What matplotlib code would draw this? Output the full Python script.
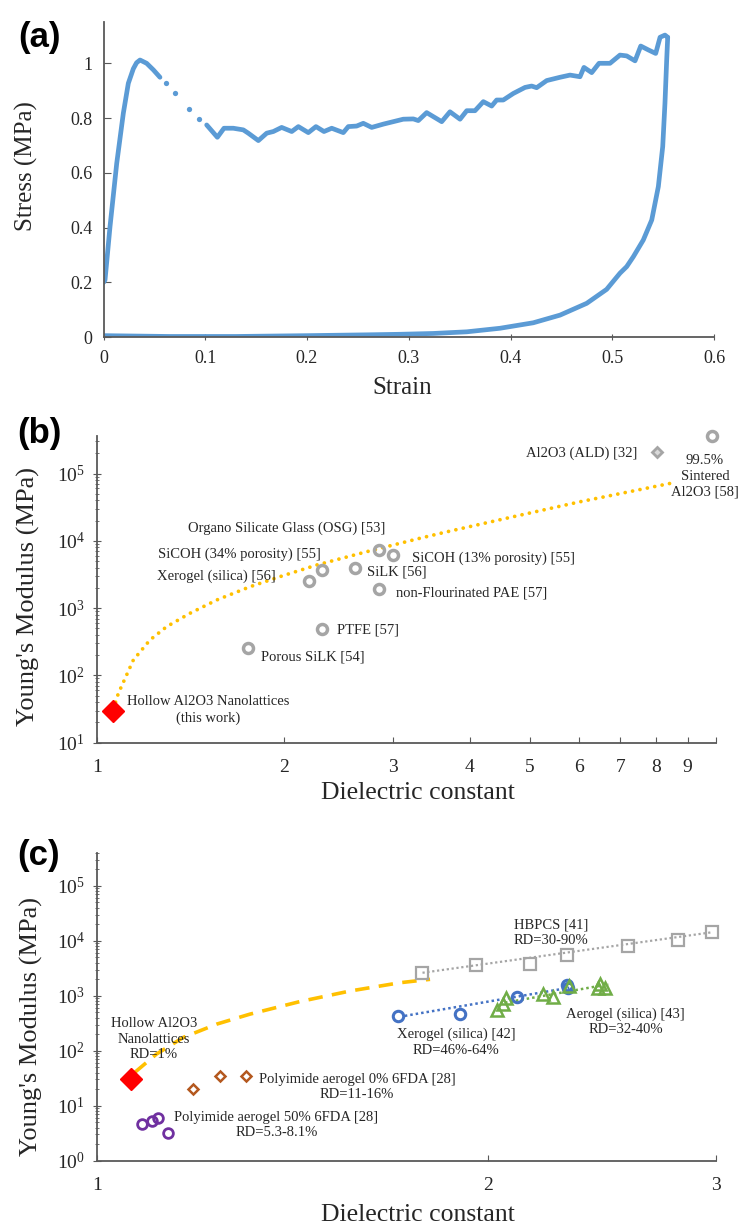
import matplotlib
matplotlib.use('Agg')
import numpy as np
import matplotlib.pyplot as plt
from matplotlib.ticker import LogLocator, NullLocator, NullFormatter, LogFormatterMathtext

# ---- panel (a): compression loading / unloading ----
strain_rise = [0.0, 0.0015, 0.0064, 0.013, 0.0195, 0.0244, 0.0293, 0.0325, 0.0359, 0.0424, 0.049, 0.0555]
stress_rise = [0.20, 0.209, 0.404, 0.635, 0.818, 0.927, 0.980, 1.002, 1.012, 1.0, 0.976, 0.949]
strain_gap = [0.0614, 0.0706, 0.0843, 0.0935]
stress_gap = [0.927, 0.890, 0.833, 0.798]
strain_plateau = [0.1014, 0.1119, 0.1184, 0.1276, 0.1374, 0.1423, 0.1522, 0.1604, 0.1669, 0.1751,
                  0.185, 0.1915, 0.2013, 0.2088, 0.2167, 0.2243, 0.2357, 0.2406, 0.2488, 0.2553,
                  0.2636, 0.275, 0.2848, 0.2946, 0.3045, 0.3094, 0.3176, 0.3324, 0.3405, 0.3504,
                  0.357, 0.3651, 0.3733, 0.3815, 0.3864, 0.3929, 0.4028, 0.4143, 0.4208, 0.4257,
                  0.4356, 0.4487, 0.4585, 0.4683, 0.4722, 0.4798, 0.487, 0.4978, 0.5076, 0.5142,
                  0.5224, 0.528, 0.5354, 0.5427, 0.547, 0.5518, 0.5545]
stress_plateau = [0.775, 0.730, 0.763, 0.763, 0.757, 0.745, 0.718, 0.745, 0.751, 0.766,
                  0.751, 0.769, 0.747, 0.769, 0.751, 0.763, 0.747, 0.769, 0.771, 0.781,
                  0.766, 0.778, 0.787, 0.796, 0.797, 0.791, 0.820, 0.787, 0.823, 0.796,
                  0.827, 0.827, 0.860, 0.844, 0.866, 0.866, 0.890, 0.912, 0.917, 0.911,
                  0.937, 0.949, 0.957, 0.951, 0.985, 0.966, 1.0, 1.0, 1.030, 1.027,
                  1.009, 1.063, 1.049, 1.036, 1.095, 1.103, 1.095]
strain_unload = [0.5545, 0.5535, 0.5518, 0.5496, 0.5453, 0.5388, 0.5305, 0.5207, 0.5142, 0.5076,
                 0.4945, 0.4749, 0.4487, 0.4224, 0.3897, 0.357, 0.3241, 0.2914, 0.2587, 0.2,
                 0.13, 0.065, 0.0]
stress_unload = [1.095, 1.012, 0.854, 0.696, 0.550, 0.428, 0.355, 0.294, 0.258, 0.234,
                 0.175, 0.124, 0.081, 0.053, 0.033, 0.020, 0.014, 0.011, 0.009, 0.006,
                 0.003, 0.003, 0.006]

# ---- panel (b): modulus vs dielectric constant ----
lowk_k = [1.754, 2.305, 2.20, 2.305, 2.61, 2.855, 3.01, 2.855, 9.84]
lowk_E = [253, 484, 2550, 3680, 3900, 7300, 6150, 1920, 3.6e5]
ald_k = [8.02]
ald_E = [2.1e5]
this_k = [1.061]
this_E = [30]
fit_b_k = [1.07, 1.081, 1.143, 1.216, 1.294, 1.411, 1.559, 1.765, 1.972, 2.262, 2.724, 3.32,
           3.67, 4.70, 6.03, 8.53]
fit_b_E = [40, 54, 169, 336, 530, 837, 1320, 2080, 2930, 4370, 6890, 10900,
           13600, 22800, 38100, 72900]

# ---- panel (c): porous materials ----
hbpcs_k = [1.781, 1.958, 2.156, 2.303, 2.564, 2.805, 2.976]
hbpcs_E = [2620, 3560, 3800, 5620, 8180, 10200, 14300]
hbpcs_trend_k = [1.781, 2.976]
hbpcs_trend_E = [2620, 14260]
xero_k = [1.704, 1.904, 2.106, 2.305, 2.30]
xero_E = [431, 475, 964, 1400, 1550]
xero_trend_k = [1.726, 2.311]
xero_trend_E = [431, 1400]
aero_k = [2.034, 2.056, 2.065, 2.204, 2.245, 2.311, 2.43, 2.441, 2.461]
aero_E = [547, 720, 925, 1092, 951, 1503, 1400, 1656, 1400]
aero_trend_k = [2.062, 2.477]
aero_trend_E = [750, 1614]
pi0_k = [1.184, 1.243, 1.302]
pi0_E = [20, 34.4, 35]
pi50_k = [1.082, 1.102, 1.113, 1.133]
pi50_E = [4.6, 5.3, 6.0, 3.2]
fit_c_k = [1.069, 1.111, 1.165, 1.236, 1.311, 1.432, 1.566, 1.711, 1.805]
fit_c_E = [40.7, 87.5, 175, 305, 463, 782, 1220, 1726, 1990]

W, H = 738, 1226
plt.rcParams['font.family'] = ['Liberation Serif', 'DejaVu Serif']
plt.rcParams['mathtext.fontset'] = 'custom'
plt.rcParams['mathtext.rm'] = 'Liberation Serif'
plt.rcParams['mathtext.default'] = 'regular'

SPINE = '#595959'
TXT = '#262626'
GRAY = '#A5A5A5'
ORANGE = '#FFC000'
ANN = 10.5
LS = 1.25

fig = plt.figure(figsize=(W / 100, H / 100), dpi=100)


def px_axes(left, top, right, bottom):
    return fig.add_axes([left / W, 1 - bottom / H, (right - left) / W, (bottom - top) / H])


def style(ax):
    for s in ['top', 'right']:
        ax.spines[s].set_visible(False)
    for s in ['left', 'bottom']:
        ax.spines[s].set_color(SPINE)
        ax.spines[s].set_linewidth(1.3)


def note(ax, x, y, s, ha='center', ma='center'):
    ax.text(x, y, s, fontsize=ANN, ha=ha, va='center', multialignment=ma, linespacing=LS, color=TXT)


# (a)
ax = px_axes(103.5, 22.2, 714, 337.3)
style(ax)
blue = '#5B9BD5'
line_kw = dict(color=blue, lw=3.4, solid_capstyle='round', solid_joinstyle='round')
ax.plot(strain_rise, stress_rise, **line_kw)
ax.plot(strain_gap, stress_gap, 'o', color=blue, ms=3.8, mew=0)
ax.plot(strain_plateau, stress_plateau, **line_kw)
ax.plot(strain_unload, stress_unload, **line_kw)
ax.set_xlim(0, 0.6)
ax.set_ylim(0, 1.15)
ax.set_xticks([0, 0.1, 0.2, 0.3, 0.4, 0.5, 0.6])
ax.set_xticklabels(['0', '0.1', '0.2', '0.3', '0.4', '0.5', '0.6'])
ax.set_yticks([0, 0.2, 0.4, 0.6, 0.8, 1.0])
ax.set_yticklabels(['0', '0.2', '0.4', '0.6', '0.8', '1'])
ax.tick_params(axis='x', direction='inout', length=5, color=SPINE, labelsize=13, pad=7, labelcolor=TXT)
ax.tick_params(axis='y', direction='in', length=5, color=SPINE, labelsize=13, pad=8, labelcolor=TXT)
fig.text(402 / W, 1 - 388 / H, 'Strain', fontsize=18, ha='center', va='center', color=TXT)
fig.text(26 / W, 1 - 166 / H, 'Stress (MPa)', fontsize=18, ha='center', va='center', rotation=90, color=TXT)


def log_axis(ax, ylim, xlim):
    ax.set_xscale('log')
    ax.set_yscale('log')
    ax.set_xlim(*xlim)
    ax.set_ylim(*ylim)
    ax.yaxis.set_major_locator(LogLocator(base=10, numticks=12))
    ax.yaxis.set_minor_locator(LogLocator(base=10, subs=np.arange(2, 10), numticks=12))
    ax.yaxis.set_major_formatter(LogFormatterMathtext())
    ax.yaxis.set_minor_formatter(NullFormatter())
    ax.xaxis.set_minor_locator(NullLocator())
    ax.tick_params(axis='y', which='major', direction='inout', length=6, color=SPINE,
                   labelsize=14, pad=6, labelcolor=TXT)
    ax.tick_params(axis='y', which='minor', direction='inout', length=3, color=SPINE)
    ax.tick_params(axis='x', which='major', direction='in', length=4, color=SPINE,
                   labelsize=14, pad=12, labelcolor=TXT)


# (b)
ax = px_axes(97.4, 436.1, 716, 742.7)
style(ax)
log_axis(ax, (10, 3.6e5), (1, 10))
ax.set_xticks([1, 2, 3, 4, 5, 6, 7, 8, 9, 10])
ax.set_xticklabels(['1', '2', '3', '4', '5', '6', '7', '8', '9', ''])
ax.plot(fit_b_k, fit_b_E, color=ORANGE, lw=2.7, linestyle=(0, (0.01, 2.0)), dash_capstyle='round')
ax.plot(lowk_k, lowk_E, 'o', ms=7.2, mfc='none', mec=GRAY, mew=2.5, clip_on=False)
ax.plot(ald_k, ald_E, 'D', ms=5.5, mfc='#D9D9D9', mec=GRAY, mew=2, clip_on=False)
ax.plot(this_k, this_E, 'D', ms=11, color='#FF0000', clip_on=False)
note(ax, 2.02, 15350, 'Organo Silicate Glass (OSG) [53]')
note(ax, 2.30, 6370, 'SiCOH (34% porosity) [55]', ha='right')
note(ax, 1.94, 2930, 'Xerogel (silica) [56]', ha='right')
note(ax, 2.725, 3474, 'SiLK [56]', ha='left')
note(ax, 3.22, 5550, 'SiCOH (13% porosity) [55]', ha='left')
note(ax, 3.04, 1693, 'non-Flourinated PAE [57]', ha='left')
note(ax, 2.437, 473, 'PTFE [57]', ha='left')
note(ax, 1.839, 190, 'Porous SiLK [54]', ha='left')
note(ax, 1.511, 30.6, 'Hollow Al2O3 Nanolattices\n(this work)')
note(ax, 7.47, 2.0e5, 'Al2O3 (ALD) [32]', ha='right')
note(ax, 9.6, 9.18e4, '99.5%\nSintered\nAl2O3 [58]')
fig.text(418 / W, 1 - 793 / H, 'Dielectric constant', fontsize=18.5, ha='center', va='center', color=TXT)
fig.text(28 / W, 1 - 597 / H, "Young's Modulus (MPa)", fontsize=19, ha='center', va='center',
         rotation=90, color=TXT)

# (c)
ax = px_axes(97.4, 852.7, 716.2, 1160.7)
style(ax)
log_axis(ax, (1, 4e5), (1, 3))
ax.set_xticks([1, 2, 3])
ax.set_xticklabels(['1', '2', '3'])
ax.plot(fit_c_k, fit_c_E, color=ORANGE, lw=2.6, linestyle=(0, (4, 2.6)))
ax.plot(hbpcs_trend_k, hbpcs_trend_E, color=GRAY, lw=1.6, linestyle=(0, (1, 1.2)))
ax.plot(xero_trend_k, xero_trend_E, color='#4472C4', lw=1.8, linestyle=(0, (1, 1.2)))
ax.plot(aero_trend_k, aero_trend_E, color='#70AD47', lw=1.8, linestyle=(0, (1, 1.2)))
ax.plot(hbpcs_k, hbpcs_E, 's', ms=8, mfc='none', mec=GRAY, mew=1.6, clip_on=False)
ax.plot(xero_k, xero_E, 'o', ms=7.5, mfc='none', mec='#4472C4', mew=2.2)
ax.plot(aero_k, aero_E, '^', ms=8.5, mfc='none', mec='#70AD47', mew=1.8)
ax.plot(pi0_k, pi0_E, 'D', ms=5, mfc='none', mec='#B4581E', mew=1.8)
ax.plot(pi50_k, pi50_E, 'o', ms=7, mfc='none', mec='#7030A0', mew=2)
ax.plot(this_k, this_E, 'D', ms=11.5, color='#FF0000')
note(ax, 1.106, 163, 'Hollow Al2O3\nNanolattices\nRD=1%')
note(ax, 1.586, 21.8, 'Polyimide aerogel 0% 6FDA [28]\nRD=11-16%')
note(ax, 1.374, 4.48, 'Polyimide aerogel 50% 6FDA [28]\nRD=5.3-8.1%')
note(ax, 2.238, 14070, 'HBPCS [41]\nRD=30-90%', ma='left')
note(ax, 1.89, 142, 'Xerogel (silica) [42]\nRD=46%-64%')
note(ax, 2.554, 337, 'Aerogel (silica) [43]\nRD=32-40%')
fig.text(418 / W, 1 - 1215 / H, 'Dielectric constant', fontsize=18.5, ha='center', va='center', color=TXT)
fig.text(31 / W, 1 - 1027 / H, "Young's Modulus (MPa)", fontsize=19, ha='center', va='center',
         rotation=90, color=TXT)

# panel letters
for lbl, y in [('(a)', 37), ('(b)', 433), ('(c)', 855)]:
    fig.text(39 / W, 1 - y / H, lbl, fontsize=25, fontweight='bold', ha='center', va='center',
             family='Liberation Sans', color='black')

fig.savefig('out.png', dpi=100)
